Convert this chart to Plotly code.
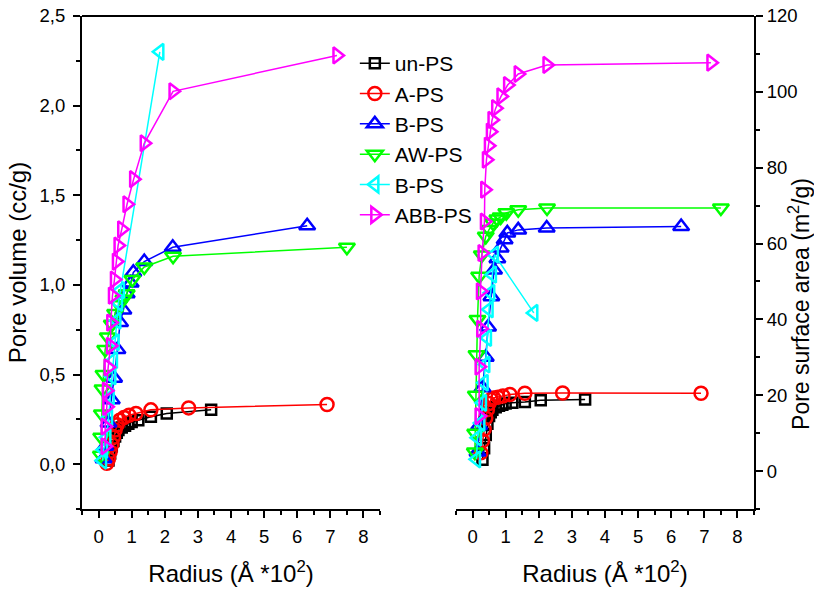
import plotly.graph_objects as go

# ---------------- data (radius in Å*10^2) ----------------
series_names = ["un-PS", "A-PS", "B-PS", "AW-PS", "B-PS", "ABB-PS"]
series_colors = ["#000000", "#FF0000", "#0000FF", "#00FF00", "#00FFFF", "#FF00FF"]
series_symbols = ["square-open", "circle-open", "triangle-up-open",
                  "triangle-down-open", "triangle-left-open", "triangle-right-open"]
series_msize = [10, 13, 14, 14, 14, 14]

un_r = [0.30, 0.35, 0.40, 0.45, 0.50, 0.55, 0.60, 0.70, 0.80, 0.90, 1.00, 1.20, 1.58, 2.06, 3.40]
un_vol = [0.02, 0.06, 0.10, 0.13, 0.155, 0.175, 0.19, 0.205, 0.215, 0.225, 0.235, 0.245, 0.265, 0.283, 0.303]
un_area = [3.0, 6.0, 9.5, 12.5, 14.5, 15.5, 16.2, 16.8, 17.2, 17.5, 17.8, 18.0, 18.2, 18.7, 18.9]

a_r = [0.25, 0.30, 0.35, 0.40, 0.45, 0.50, 0.56, 0.64, 0.77, 0.92, 1.13, 1.58, 2.72, 6.90]
a_vol = [0.005, 0.03, 0.07, 0.11, 0.15, 0.19, 0.22, 0.245, 0.26, 0.273, 0.283, 0.303, 0.314, 0.333]
a_area = [4.8, 8.0, 11.0, 14.0, 16.2, 17.8, 18.9, 19.3, 19.5, 19.8, 20.2, 20.5, 20.6, 20.5]

b_r = [0.15, 0.20, 0.30, 0.40, 0.47, 0.57, 0.65, 0.75, 0.85, 0.97, 1.05, 1.38, 2.24, 6.30]
b_vol = [0.03, 0.10, 0.23, 0.36, 0.48, 0.64, 0.79, 0.86, 0.95, 1.01, 1.07, 1.13, 1.21, 1.33]
b_area = [5.0, 12.0, 22.0, 30.0, 38.0, 46.0, 53.0, 56.0, 58.8, 61.0, 62.8, 63.6, 64.1, 64.5]

aw_r = [0.07, 0.08, 0.10, 0.12, 0.15, 0.20, 0.28, 0.40, 0.50, 0.62, 0.75, 0.85, 1.02, 1.38, 2.25, 7.50]
aw_vol = [0.05, 0.15, 0.28, 0.42, 0.50, 0.64, 0.71, 0.78, 0.84, 0.89, 0.92, 0.95, 1.03, 1.10, 1.16, 1.21]
aw_area = [5.0, 10.0, 20.0, 30.7, 40.0, 51.4, 57.0, 61.9, 63.7, 65.4, 66.5, 67.0, 68.1, 68.9, 69.4, 69.4]

b2_r = [0.12, 0.15, 0.25, 0.30, 0.35, 0.40, 0.45, 0.50, 0.55, 0.60, 0.66, 1.85]
b2_vol = [0.02, 0.08, 0.15, 0.26, 0.375, 0.49, 0.58, 0.68, 0.80, 0.90, 0.97, 2.30]
b2_area = [3.1, 8.8, 12.7, 18.0, 23.3, 28.1, 35.1, 42.6, 47.0, 51.8, 57.1, 41.7]

abb_r = [0.20, 0.20, 0.25, 0.24, 0.29, 0.36, 0.37, 0.42, 0.48, 0.54, 0.59, 0.70, 0.86, 1.06, 1.38, 2.25, 7.20]
abb_vol = [0.10, 0.21, 0.32, 0.41, 0.54, 0.66, 0.79, 0.94, 1.03, 1.13, 1.22, 1.31, 1.45, 1.59, 1.79, 2.08, 2.28]
abb_area = [14.5, 27.5, 37.5, 47.4, 57.5, 65.8, 74.2, 82.1, 85.8, 89.5, 92.6, 95.7, 98.8, 101.8, 104.7, 107.1, 107.7]

x_ticks = [0, 1, 2, 3, 4, 5, 6, 7, 8]

radii = [un_r, a_r, b_r, aw_r, b2_r, abb_r]
vols = [un_vol, a_vol, b_vol, aw_vol, b2_vol, abb_vol]
areas = [un_area, a_area, b_area, aw_area, b2_area, abb_area]

FONT = "Arial, Liberation Sans, sans-serif"

fig = go.Figure()
for panel, (xa, ya, ys) in enumerate([("x", "y", vols), ("x2", "y2", areas)]):
    for i in range(6):
        fig.add_trace(go.Scatter(
            x=radii[i], y=ys[i], xaxis=xa, yaxis=ya,
            mode="lines+markers",
            line=dict(color=series_colors[i], width=1.5),
            marker=dict(symbol=series_symbols[i], size=series_msize[i],
                        color=series_colors[i], line=dict(color=series_colors[i], width=2.5)),
            name=series_names[i],
            legendgroup="g%d" % i,
            showlegend=(panel == 0),
        ))

axis_common = dict(
    showline=True, linecolor="black", linewidth=2,
    ticks="outside", ticklen=7, tickwidth=2, tickcolor="black",
    showgrid=False, zeroline=False, automargin=False,
    tickfont=dict(family=FONT, size=18.5, color="black"),
)
minor_x = dict(dtick=0.5, tick0=0, ticks="outside", ticklen=4, tickwidth=2, tickcolor="black")
xtitle = dict(text="Radius (Å *10<sup>2</sup>)", font=dict(family=FONT, size=24, color="black"), standoff=19)

fig.update_layout(
    width=814, height=592,
    margin=dict(l=82, r=60, t=16, b=83),
    paper_bgcolor="white", plot_bgcolor="white",
    separators=",.",
    font=dict(family=FONT, color="black"),
    xaxis=dict(domain=[0, 0.4435], range=[-0.5, 8.5], tickvals=x_ticks, minor=minor_x,
               anchor="y", title=xtitle, ticklabelstandoff=3, **axis_common),
    yaxis=dict(domain=[0, 1], range=[-0.25, 2.5], dtick=0.5, tick0=0, tickformat=".1f",
               minor=dict(dtick=0.25, tick0=0, ticks="outside", ticklen=4, tickwidth=2, tickcolor="black"),
               anchor="x", ticklabelstandoff=4,
               title=dict(text="Pore volume (cc/g)", font=dict(family=FONT, size=24, color="black"), standoff=6),
               **axis_common),
    xaxis2=dict(domain=[0.5565, 1], range=[-0.5, 8.5], tickvals=x_ticks, minor=minor_x,
                anchor="y2", title=xtitle, ticklabelstandoff=3, **axis_common),
    yaxis2=dict(domain=[0, 1], range=[-10, 120], dtick=20, tick0=0,
                minor=dict(dtick=10, tick0=0, ticks="outside", ticklen=4, tickwidth=2, tickcolor="black"),
                anchor="x2", side="right",
                **axis_common),
    legend=dict(x=0.406, y=0.945, xanchor="left", yanchor="top",
                bgcolor="rgba(0,0,0,0)", borderwidth=0,
                font=dict(family=FONT, size=21, color="black"),
                tracegroupgap=0, itemwidth=30),
    shapes=[dict(type="line", xref="paper", yref="paper", x0=0, x1=1, y0=1, y1=1,
                 line=dict(color="black", width=2))],
    annotations=[dict(text="Pore surface area (m<sup>2</sup>/g)", xref="paper", yref="paper",
                      x=1.0670, y=0.416, xanchor="center", yanchor="middle", textangle=-90,
                      showarrow=False, font=dict(family=FONT, size=23, color="black"))],
)

fig.write_html("out.html")
